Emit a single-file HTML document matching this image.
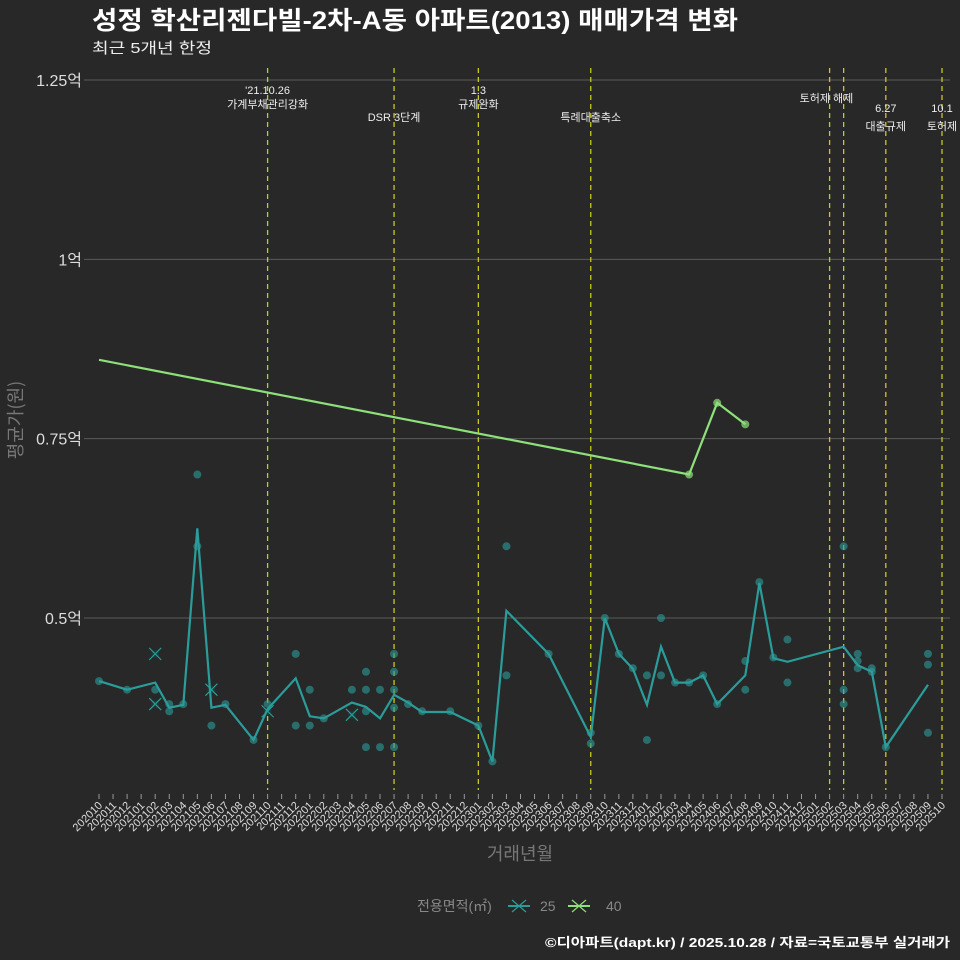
<!DOCTYPE html>
<html><head><meta charset="utf-8"><style>
html,body{margin:0;padding:0;background:#282828;}
svg{display:block;font-family:"Liberation Sans","Noto Sans CJK KR",sans-serif;}
</style></head><body>
<svg id="c" width="960" height="960" viewBox="0 0 960 960">
<rect width="960" height="960" fill="#282828"/>
<text x="92" y="29" font-size="25" font-weight="bold" fill="#ffffff" textLength="646" lengthAdjust="spacingAndGlyphs">성정 학산리젠다빌-2차-A동 아파트(2013) 매매가격 변화</text>
<text x="92" y="53" font-size="15" fill="#eeeeee" textLength="120" lengthAdjust="spacingAndGlyphs">최근 5개년 한정</text>
<g id="grid"></g><g id="vl"></g><g id="marks"></g><g id="xt"></g>
<text transform="translate(22,420) rotate(-90)" text-anchor="middle" font-size="18" fill="#777" font-family="Noto Sans CJK KR, sans-serif">평균가(원)</text>
<text x="520" y="860" text-anchor="middle" font-size="18" fill="#777">거래년월</text>
<g>
<text x="417" y="911" font-size="14" fill="#888">전용면적(㎡)</text>
<g><line x1="508" y1="906" x2="530" y2="906" stroke="#2a9d9a" stroke-width="2"/><path d="M512 900L526 912M526 900L512 912" stroke="#2a9d9a" stroke-width="1.2"/><text x="540" y="911" font-size="14" fill="#888">25</text></g>
<g><line x1="568" y1="906" x2="590" y2="906" stroke="#8ee07a" stroke-width="2"/><path d="M572 900L586 912M586 900L572 912" stroke="#8ee07a" stroke-width="1.2"/><text x="606" y="911" font-size="14" fill="#888">40</text></g>
</g>
<text x="950" y="947" text-anchor="end" font-size="13" font-weight="bold" fill="#ffffff" textLength="405" lengthAdjust="spacingAndGlyphs">©디아파트(dapt.kr) / 2025.10.28 / 자료=국토교통부 실거래가</text>
</svg>
<script>
const months=[];for(let y=2020,m=10;!(y===2025&&m===11);){months.push(y+String(m).padStart(2,'0'));m++;if(m>12){m=1;y++;}}
const yTicks=[0.5,0.75,1,1.25];
const yTickLabels=['0.5억','0.75억','1억','1.25억'];
const line25Idx=[0,2,4,5,6,7,8,9,11,12,14,15,16,18,19,20,21,22,23,25,27,28,29,32,35,36,37,38,39,40,41,42,43,44,46,47,48,49,53,54,55,56,59];
const line25Val=[0.412,0.40,0.41,0.375,0.379,0.625,0.375,0.379,0.33,0.373,0.416,0.363,0.36,0.382,0.376,0.36,0.393,0.382,0.369,0.369,0.35,0.30,0.51,0.45,0.334,0.50,0.45,0.429,0.379,0.46,0.41,0.41,0.42,0.38,0.42,0.549,0.444,0.439,0.46,0.434,0.425,0.32,0.407];
const pts25Idx=[0,2,4,5,5,6,7,7,8,9,11,12,14,14,15,15,16,18,19,19,19,19,20,20,21,21,21,21,21,22,23,25,27,28,29,29,32,35,35,36,37,38,39,39,40,40,41,42,43,44,46,46,47,48,49,49,53,53,53,54,54,54,55,55,56,59,59,59];
const pts25Val=[0.412,0.40,0.40,0.38,0.37,0.38,0.70,0.60,0.35,0.38,0.33,0.38,0.45,0.35,0.40,0.35,0.36,0.40,0.425,0.40,0.37,0.32,0.40,0.32,0.45,0.425,0.40,0.375,0.32,0.38,0.37,0.37,0.35,0.30,0.60,0.42,0.45,0.34,0.325,0.50,0.45,0.43,0.42,0.33,0.50,0.42,0.41,0.41,0.42,0.38,0.44,0.40,0.55,0.445,0.47,0.41,0.60,0.40,0.38,0.45,0.44,0.43,0.43,0.425,0.32,0.45,0.435,0.34];
const cross25Idx=[4,4,8,12,18];
const cross25Val=[0.45,0.38,0.40,0.37,0.365];
const line40Idx=[0,42,44,46];
const line40Val=[0.86,0.70,0.80,0.77];
const pts40Idx=[42,44,46];
const pts40Val=[0.70,0.80,0.77];
const eventIdx=[12,21,27,35,52,53,56,60];
const eventL1=["'21.10.26","","1.3","","","","6.27","10.1"];
const eventL2=["가계부채관리강화","DSR 3단계","규제완화","특례대출축소","토허제 해제","","대출규제","토허제"];
const NS='http://www.w3.org/2000/svg';
const X=i=>99+i*(942-99)/60;
const Y=v=>618-(v-0.5)*717.3;
function mk(t,a,p){const e=document.createElementNS(NS,t);for(const k in a)e.setAttribute(k,a[k]);p.appendChild(e);return e;}
const grid=document.getElementById('grid'),vl=document.getElementById('vl'),marks=document.getElementById('marks'),xt=document.getElementById('xt');
yTicks.forEach((v,i)=>{
 const l=mk('line',{x1:84,x2:950,y1:Y(v),y2:Y(v),stroke:'#5a5a5a','stroke-width':1},grid);
 
 
 const t=mk('text',{x:82,y:Y(v)+6,'text-anchor':'end','font-size':16,fill:'#ddd'},grid);t.textContent=yTickLabels[i];
 
 
});
eventIdx.forEach((idx,i)=>{
 const x=X(idx);
 const l=mk('line',{x1:x,x2:x,y1:68,y2:790,stroke:'#c8c820','stroke-width':1.3,'stroke-dasharray':'5,4'},vl);
 
 
 const two=eventL1[i]!=='';
 let y2=two?108:(i===4?102:121);
 if(idx===53) return;
 const anch=idx===52?'start':'middle';
 const tx=idx===52?x-30:x;
 if(two){const t=mk('text',{x:x,y:y2-14,'text-anchor':'middle','font-size':11,fill:'#eee'},vl);t.textContent=eventL1[i];
  
  }
 if(idx===56||idx===60){y2=130;}
 if(idx===56||idx===60){vl.lastChild.setAttribute('y',112);}
 const t=mk('text',{x:tx,y:y2,'text-anchor':anch,'font-size':11,fill:'#eee'},vl);t.textContent=eventL2[i];
 
 
});
months.forEach((m,i)=>{
 const x=X(i);
 mk('line',{x1:x,x2:x,y1:794,y2:799,stroke:'#999','stroke-width':1},xt);
 const t=mk('text',{transform:`translate(${x+4},${806}) rotate(-45)`,'text-anchor':'end','font-size':11,fill:'#ddd'},xt);t.textContent=m;
 
 
});
function pathOf(ix,vs){return ix.map((i,k)=>(k?'L':'M')+X(i).toFixed(1)+' '+Y(vs[k]).toFixed(1)).join('');}
pts25Idx.forEach((i,k)=>{const c=mk('circle',{cx:X(i),cy:Y(pts25Val[k]),r:4,fill:'#2a9d9a','fill-opacity':0.6},marks);
 
 });
cross25Idx.forEach((i,k)=>{const x=X(i),y=Y(cross25Val[k]);
 mk('circle',{cx:x,cy:y,r:4,fill:'#1a3a3a'},marks);
 const p=mk('path',{d:`M${x-6} ${y-6}L${x+6} ${y+6}M${x+6} ${y-6}L${x-6} ${y+6}`,stroke:'#2a9d9a','stroke-width':1.2},marks);
 
 });
const l25=mk('path',{d:pathOf(line25Idx,line25Val),fill:'none',stroke:'#2a9d9a','stroke-width':2.2},marks);


const l40=mk('path',{d:pathOf(line40Idx,line40Val),fill:'none',stroke:'#8ee07a','stroke-width':2.2},marks);


pts40Idx.forEach((i,k)=>{const c=mk('circle',{cx:X(i),cy:Y(pts40Val[k]),r:4,fill:'#8ee07a','fill-opacity':0.7},marks);
 
 });
</script>
</body></html>
